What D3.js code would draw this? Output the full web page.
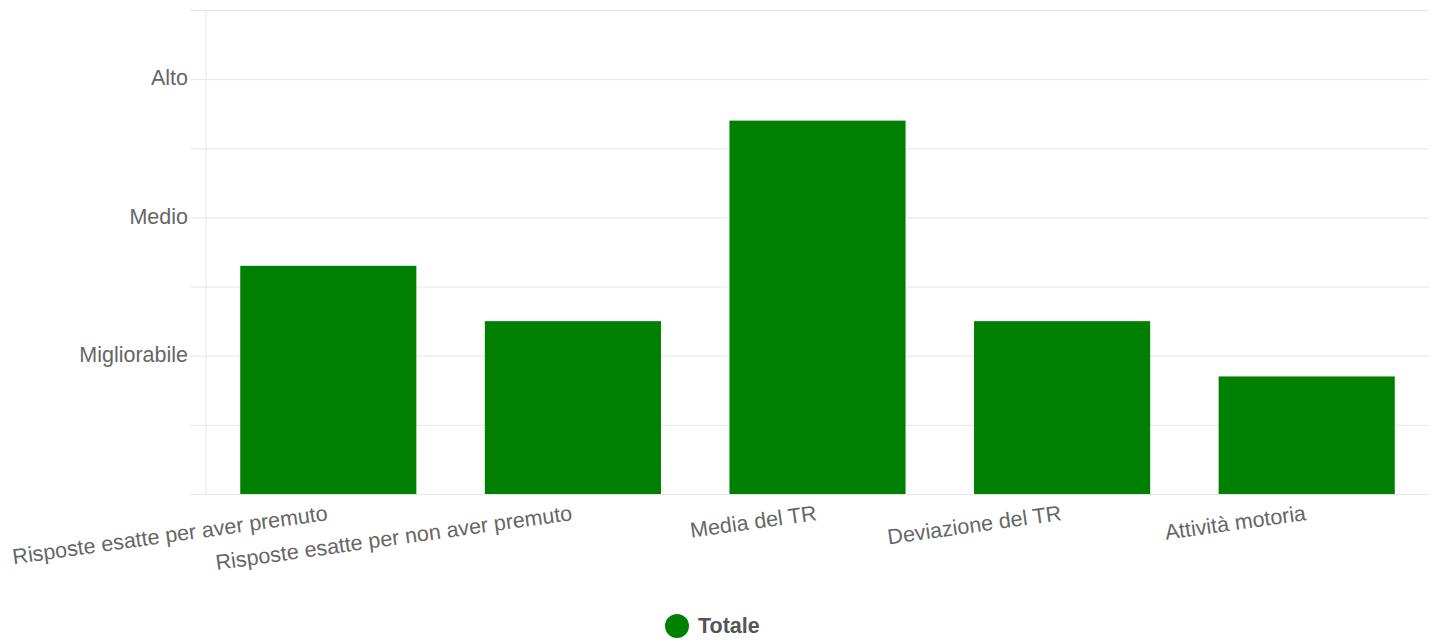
<!DOCTYPE html>
<html>
<head>
<meta charset="utf-8">
<script src="https://cdn.jsdelivr.net/npm/d3@7"></script>
<style>
  html, body { margin: 0; padding: 0; background: #fff; }
  svg { display: block; font-family: "Liberation Sans", Arial, sans-serif; }
</style>
</head>
<body>
<svg id="chart" width="1438" height="642"></svg>
<script>
const categories = [
  "Risposte esatte per aver premuto",
  "Risposte esatte per non aver premuto",
  "Media del TR",
  "Deviazione del TR",
  "Attività motoria"
];
const values = [1.65, 1.25, 2.7, 1.25, 0.85];
const seriesName = "Totale";
const tickValues = [0, 0.5, 1, 1.5, 2, 2.5, 3, 3.5];
const tickLabels = ["", "", "Migliorabile", "", "Medio", "", "Alto", ""];

const svg = d3.select("#chart");
const plotLeft = 206, plotRight = 1429, plotTop = 10, plotBottom = 494;

const y = d3.scaleLinear().domain([0, 3.5]).range([plotBottom, plotTop]);
const x = d3.scaleBand().domain(categories).range([plotLeft, plotRight])
  .paddingInner(0.28).paddingOuter(0.14);

// gridlines + y ticks
const yAxis = d3.axisLeft(y)
  .tickValues(tickValues)
  .tickSize(plotRight - 190)
  .tickFormat((d, i) => tickLabels[i]);
const gy = svg.append("g").attr("transform", `translate(${plotRight},0)`).call(yAxis);
gy.select(".domain").remove();
gy.selectAll(".tick line").attr("stroke", "#e6e6e6").attr("stroke-width", 1);
gy.selectAll(".tick text")
  .attr("x", -(plotRight - 188))
  .attr("dy", "0.26em")
  .attr("fill", "#666")
  .style("font-size", "21.5px");

// vertical axis line
svg.append("line")
  .attr("x1", plotLeft).attr("x2", plotLeft)
  .attr("y1", plotTop).attr("y2", plotBottom)
  .attr("stroke", "#e6e6e6").attr("stroke-width", 1);

// bars
svg.append("g").selectAll("rect")
  .data(values)
  .join("rect")
  .attr("x", (d, i) => x(categories[i]))
  .attr("y", d => y(d))
  .attr("width", x.bandwidth())
  .attr("height", d => y(0) - y(d))
  .attr("fill", "#008000");

// bottom axis line
svg.append("line")
  .attr("x1", 190).attr("x2", plotRight)
  .attr("y1", plotBottom + 0.5).attr("y2", plotBottom + 0.5)
  .attr("stroke", "#e6e6e6").attr("stroke-width", 1);

// x labels
svg.append("g").selectAll("text")
  .data(categories)
  .join("text")
  .attr("transform", d => `translate(${x(d) + x.bandwidth() / 2},520) rotate(-8)`)
  .attr("text-anchor", "end")
  .attr("fill", "#666")
  .style("font-size", "21.5px")
  .text(d => d);

// legend
const lg = svg.append("g");
lg.append("circle").attr("cx", 677).attr("cy", 626).attr("r", 12).attr("fill", "#008000");
lg.append("text").attr("x", 698).attr("y", 633)
  .attr("fill", "#555").style("font-size", "21.5px").style("font-weight", "bold")
  .text(seriesName);
</script>
</body>
</html>
